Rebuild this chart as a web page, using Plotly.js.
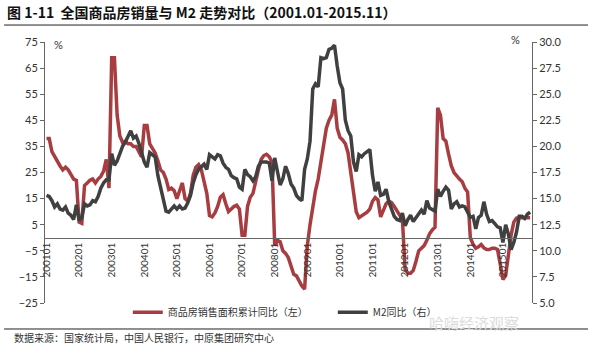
<!DOCTYPE html>
<html>
<head>
<meta charset="utf-8">
<script src="https://cdn.plot.ly/plotly-3.0.1.min.js"></script>
<style>html,body{margin:0;padding:0;background:#fff;}#chart{width:590px;height:352px;}</style>
</head>
<body>
<div id="chart"></div>
<script>
// month categories 2001.01 - 2015.11
const months = [];
for (let y = 2001; y <= 2015; y++) {
  for (let m = 1; m <= 12; m++) {
    if (y === 2015 && m > 11) break;
    months.push(String(y) + (m < 10 ? '0' + m : String(m)));
  }
}
const tickLabels = ['200101','200201','200301','200401','200501','200601','200701','200801',
  '200901','201001','201101','201201','201301','201401','201501'];

// 商品房销售面积累计同比 (%), left axis
const salesYoY = [
  38, 38, 33, 31, 29.5, 27.5, 26, 27, 26, 24, 22.5, 22,
  6, 5.5, 20, 21, 22, 22.5, 21, 22.5, 23.5, 25.5, 30, 19,
  69, 69, 47, 39, 36.5, 37, 36, 36, 35, 35, 33, 31,
  43, 43, 36, 34, 32.5, 29.5, 26, 25, 22.5, 18.5, 19, 18,
  15, 18, 21, 15, 14, 17, 24, 27, 28, 26, 22, 17,
  8.5, 8, 9.5, 12, 15.5, 16.5, 13, 10, 11, 12, 12.5, 11,
  1, 1, 12, 15.5, 17, 22, 26, 30, 31.5, 32, 31, 29,
  -3, -1, -1.5, -5, -6, -7.6, -10.8, -14, -14.6, -16.6, -18.5, -19.7,
  -3, 5, 12, 18, 22.5, 29, 36, 42, 45, 47, 53, 42,
  38.5, 37.5, 36, 32.5, 25, 18, 10, 7.7, 8.3, 9, 9.8, 11,
  14, 15.4, 14.5, 8, 10.5, 13, 14, 13.5, 12, 10.5, 9, 7,
  -12, -13.6, -13.6, -12.5, -9, -5, -4, -3, -1, 1.5, 3, 4,
  49.8, 47, 38, 37, 32, 27.5, 25, 23.5, 22.5, 21.5, 19, 17.5,
  0, -2.5, -4, -3.5, -2.6, -3.9, -4.5, -4.5, -4, -4, -4.5, -10,
  -16, -14.5, -6, 1, 6, 7.5, 7.7, 7.7, 7.7, 7.7, 7.7
];

// M2同比 (%), right axis
const m2YoY = [
  15.3, 15.2, 14.8, 14.2, 14.5, 14.0, 13.9, 14.2, 13.6, 13.4, 13.0, 14.4,
  12.9, 13.2, 14.5, 14.3, 14.4, 14.8, 14.7, 15.2, 16.0, 16.5, 16.8, 16.8,
  19.3, 18.2, 18.6, 19.3, 20.0, 20.4, 21.0, 21.5, 20.8, 21.0, 20.3, 19.5,
  18.5, 18.0, 19.4, 19.2, 19.0, 17.2, 16.0, 15.0, 13.8, 13.7, 14.0, 14.3,
  14.0, 14.3, 14.0, 14.1, 14.6, 15.3, 16.5, 17.3, 17.8, 18.0, 18.3, 17.8,
  19.2, 19.0, 18.8, 19.2, 19.1, 18.4, 18.0, 17.8, 17.2, 17.0, 16.9, 16.1,
  15.9, 17.8, 17.3, 17.1, 16.7, 17.1, 18.1, 18.5, 18.5, 18.5, 18.4, 16.7,
  18.9, 17.5, 16.3, 16.9, 18.1, 17.4, 16.4, 16.0, 15.3, 15.0, 14.8, 17.8,
  18.8, 20.5, 25.5, 26.0, 25.7, 28.5, 28.4, 28.5, 29.3, 29.4, 29.7, 27.7,
  26.1, 25.5, 22.5, 21.5, 21.0, 18.5, 17.6, 19.2, 19.0, 19.3, 19.5, 19.7,
  17.2, 15.7, 16.6, 15.3, 15.4, 15.9, 14.7, 13.9, 13.3, 13.0, 12.9, 13.6,
  12.4, 13.0, 13.4, 12.8, 13.2, 13.6, 13.9, 13.5, 14.8, 14.1, 13.9, 13.8,
  15.9, 15.2, 15.7, 16.1, 15.8, 14.0, 14.5, 14.7, 14.2, 14.3, 14.2, 13.6,
  13.2, 13.3, 12.1, 13.2, 13.4, 14.7, 13.5, 12.8, 12.9, 12.6, 12.3, 12.2,
  10.8, 12.5, 11.6, 10.1, 10.8, 11.8, 13.3, 13.3, 13.1, 13.5, 13.7
];

const leftTicks = [-25, -15, -5, 5, 15, 25, 35, 45, 55, 65, 75];
const rightTicks = [5, 7.5, 10, 12.5, 15, 17.5, 20, 22.5, 25, 27.5, 30];
const seriesNames = ['商品房销售面积累计同比（左）', 'M2同比（右）'];

const tickFont = {family: 'Lato, "DejaVu Sans", sans-serif', size: 11, color: '#333'};
const cjk = '"Noto Sans CJK SC", sans-serif';

const traces = [
  {x: months, y: salesYoY, name: seriesNames[0], type: 'scatter', mode: 'lines',
   yaxis: 'y', line: {color: '#a83d41', width: 3.5}},
  {x: months, y: m2YoY, name: seriesNames[1], type: 'scatter', mode: 'lines',
   yaxis: 'y2', line: {color: '#404040', width: 3.5}}
];

const layout = {
  width: 590, height: 352,
  margin: {l: 45, r: 58, t: 42, b: 49, pad: 0},
  paper_bgcolor: '#fff', plot_bgcolor: '#fff',
  title: {text: '<b>图 1-11  全国商品房销量与 M2 走势对比（2001.01-2015.11）</b>',
    x: 0.012, xanchor: 'left', y: 0.962, yanchor: 'middle',
    font: {family: cjk, size: 14, color: '#111'}},
  xaxis: {type: 'category', range: [-0.55, 178.7], anchor: 'free', position: 0.25,
    showline: true, linecolor: '#666', linewidth: 1, ticks: '', showgrid: false, zeroline: false,
    tickmode: 'array', tickvals: tickLabels, ticktext: tickLabels, tickangle: -90,
    tickfont: {family: tickFont.family, size: 10, color: '#333'}},
  yaxis: {range: [-25, 75], tickmode: 'array', tickvals: leftTicks, showline: true,
    linecolor: '#666', linewidth: 1, ticks: 'outside', ticklen: 4, tickcolor: '#666',
    showgrid: false, zeroline: false, tickfont: tickFont},
  yaxis2: {range: [5, 30], overlaying: 'y', side: 'right', tickmode: 'array', tickvals: rightTicks,
    tickformat: '.1f', showline: true, linecolor: '#666', linewidth: 1, ticks: 'outside', ticklen: 4,
    tickcolor: '#666', showgrid: false, zeroline: false, tickfont: tickFont},
  showlegend: true,
  legend: {orientation: 'h', x: 0.17, xanchor: 'left', y: -0.035, yanchor: 'middle',
    font: {family: cjk, size: 10, color: '#333'}, itemwidth: 30, entrywidth: 160,
    entrywidthmode: 'pixels', bgcolor: 'rgba(0,0,0,0)'},
  shapes: [
    {type: 'line', xref: 'paper', yref: 'paper', x0: -0.084, x1: 1.115, y0: 1.065, y1: 1.065,
     line: {color: '#222', width: 1}},
    {type: 'line', xref: 'paper', yref: 'paper', x0: -0.084, x1: 1.115, y0: -0.0996, y1: -0.0996,
     line: {color: '#222', width: 1}}
  ],
  annotations: [
    {text: '%', xref: 'paper', yref: 'paper', x: 0.027, y: 0.99, xanchor: 'center', yanchor: 'middle',
     showarrow: false, font: {family: tickFont.family, size: 11, color: '#333'}},
    {text: '%', xref: 'paper', yref: 'paper', x: 0.967, y: 1.011, xanchor: 'center', yanchor: 'middle',
     showarrow: false, font: {family: tickFont.family, size: 11, color: '#333'}},
    {text: '数据来源：国家统计局，中国人民银行，中原集团研究中心', xref: 'paper', yref: 'paper',
     x: -0.068, y: -0.134, xanchor: 'left', yanchor: 'middle', showarrow: false,
     font: {family: cjk, size: 10, color: '#333'}},
    {text: '哈嗨经济观察', xref: 'paper', yref: 'paper', x: 0.88, y: -0.076, xanchor: 'center',
     yanchor: 'middle', showarrow: false, font: {family: cjk, size: 15, color: '#dcdcdc'}}
  ]
};

Plotly.newPlot('chart', traces, layout, {displayModeBar: false, staticPlot: true});
</script>
</body>
</html>
